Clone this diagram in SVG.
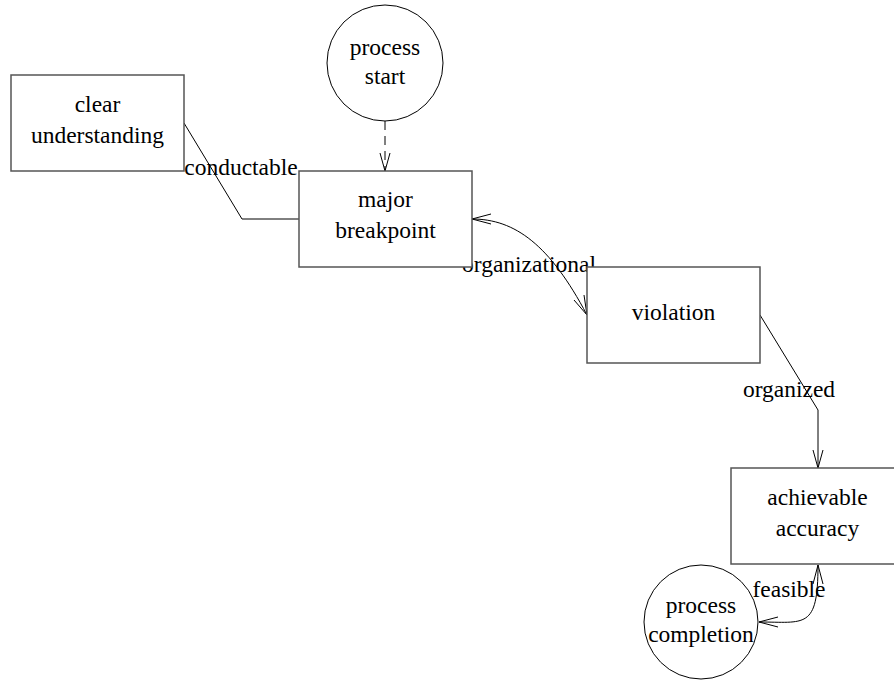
<svg xmlns="http://www.w3.org/2000/svg" width="894" height="681" viewBox="0 0 894 681">
<style>
.box{fill:#fff;stroke:#555;stroke-width:1.5}
.circ{fill:#fff;stroke:#000;stroke-width:1}
.t{font-family:"Liberation Serif","Times New Roman",serif;font-size:23.5px;fill:#000;text-anchor:middle}
.c{fill:none;stroke:#000;stroke-width:1}
</style>
<rect width="894" height="681" fill="#fff"/>
<g id="edges">
<path class="c" d="M184,123 L242,219 L299,219"/>
<path class="c" d="M385,121 L385,171" stroke-dasharray="9,6"/>
<path class="c" d="M380,153 L385,171 L390,153"/>
<path class="c" d="M472,219 C515,219 550,245 587,315"/>
<path class="c" d="M491,214 L472,219 L491,224"/>
<path class="c" d="M574,300 L587,315 L584,295"/>
<path class="c" d="M760,315 L818,410 L818,468"/>
<path class="c" d="M813,450 L818,468 L823,450"/>
<path class="c" d="M818,565 C818,630 805,622 759,622"/>
<path class="c" d="M813,584 L818,565 L823,584"/>
<path class="c" d="M778,617 L759,622 L778,627"/>
<text class="t" x="241" y="175">conductable</text>
<text class="t" x="529" y="272">organizational</text>
<text class="t" x="789" y="397">organized</text>
<text class="t" x="789" y="597">feasible</text>
</g>
<g id="clear_understanding">
<rect class="box" x="11" y="75" width="173" height="96"/>
<text class="t" x="97.5" y="112">clear</text>
<text class="t" x="97.5" y="143">understanding</text>
</g>
<g id="process_start">
<circle class="circ" cx="385" cy="63" r="58"/>
<text class="t" x="385" y="55">process</text>
<text class="t" x="385" y="84">start</text>
</g>
<g id="major_breakpoint">
<rect class="box" x="299" y="171" width="173" height="96"/>
<text class="t" x="385.5" y="207">major</text>
<text class="t" x="385.5" y="238">breakpoint</text>
</g>
<g id="violation">
<rect class="box" x="587" y="267" width="173" height="96"/>
<text class="t" x="673.5" y="320">violation</text>
</g>
<g id="achievable_accuracy">
<rect class="box" x="731" y="468" width="173" height="96"/>
<text class="t" x="817.5" y="505">achievable</text>
<text class="t" x="817.5" y="536">accuracy</text>
</g>
<g id="process_completion">
<circle class="circ" cx="701" cy="622" r="57"/>
<text class="t" x="701" y="613">process</text>
<text class="t" x="701" y="642">completion</text>
</g>
</svg>
